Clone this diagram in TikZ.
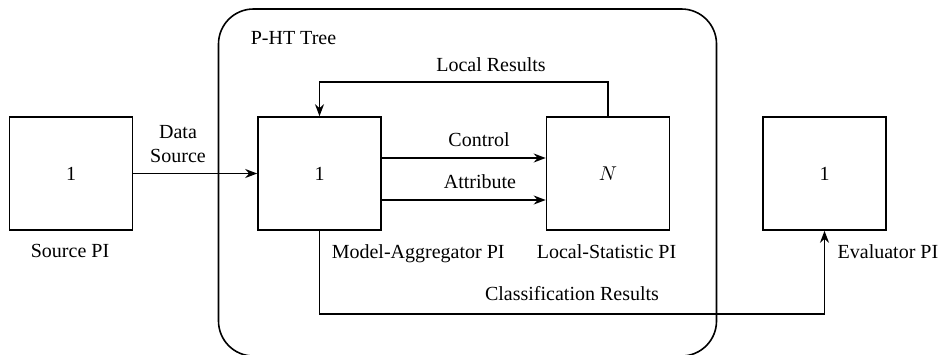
\documentclass[tikz,border=0pt]{standalone}
\usepackage{fontspec}
\setmainfont{Liberation Serif}
\usetikzlibrary{arrows.meta,positioning}

\begin{document}
\begin{tikzpicture}[x=0.5pt,y=-0.5pt,>={Stealth[length=6pt,width=4.5pt]},line width=0.8pt,
    pibox/.style={draw,minimum width=61.5pt,minimum height=56.5pt,inner sep=0pt},
    lbl/.style={inner sep=0pt}]
        \useasboundingbox (0,0) rectangle (941,354);
        \draw[rounded corners=17.5pt] (218.5,9) rectangle (716.5,356); % P-HT Tree
        \node[lbl,anchor=base west] (tree) at (250,44) {P-HT Tree};
        \node[pibox] (src) at (71,173.5) {1};
        \node[pibox] (agg) at (319.5,173.5) {1};
        \node[pibox] (loc) at (608,173.5) {$N$};
        \node[pibox] (eva) at (824.5,173.5) {1};
        \node[lbl,anchor=base] (srcname) at (70,257) {Source PI};
        \node[lbl,anchor=base west] (aggname) at (331,258) {Model-Aggregator PI};
        \node[lbl,anchor=base west] (locname) at (536,258) {Local-Statistic PI};
        \node[lbl,anchor=base east] (evaname) at (939,258) {Evaluator PI};
        \draw[->] (src) -- (agg);
        \node[lbl,align=center] (data) at (178,144) {Data\\Source};
        \draw[->] ([yshift=7.75pt]agg.east) -- ([yshift=7.75pt]loc.west);
        \node[lbl,anchor=base] (ctrl) at (479,146) {Control};
        \draw[->] ([yshift=-13.25pt]agg.east) -- ([yshift=-13.25pt]loc.west);
        \node[lbl,anchor=base] (attr) at (480,188) {Attribute};
        \draw[->] (loc.north) -- ++(0,-34) -| (agg.north);
        \node[lbl,anchor=base] (res) at (491,71) {Local Results};
        \draw[->] (agg.south) -- ++(0,83) -| (eva.south);
        \node[lbl,anchor=base] (cls) at (572,300) {Classification Results};
      \end{tikzpicture}
\end{document}
